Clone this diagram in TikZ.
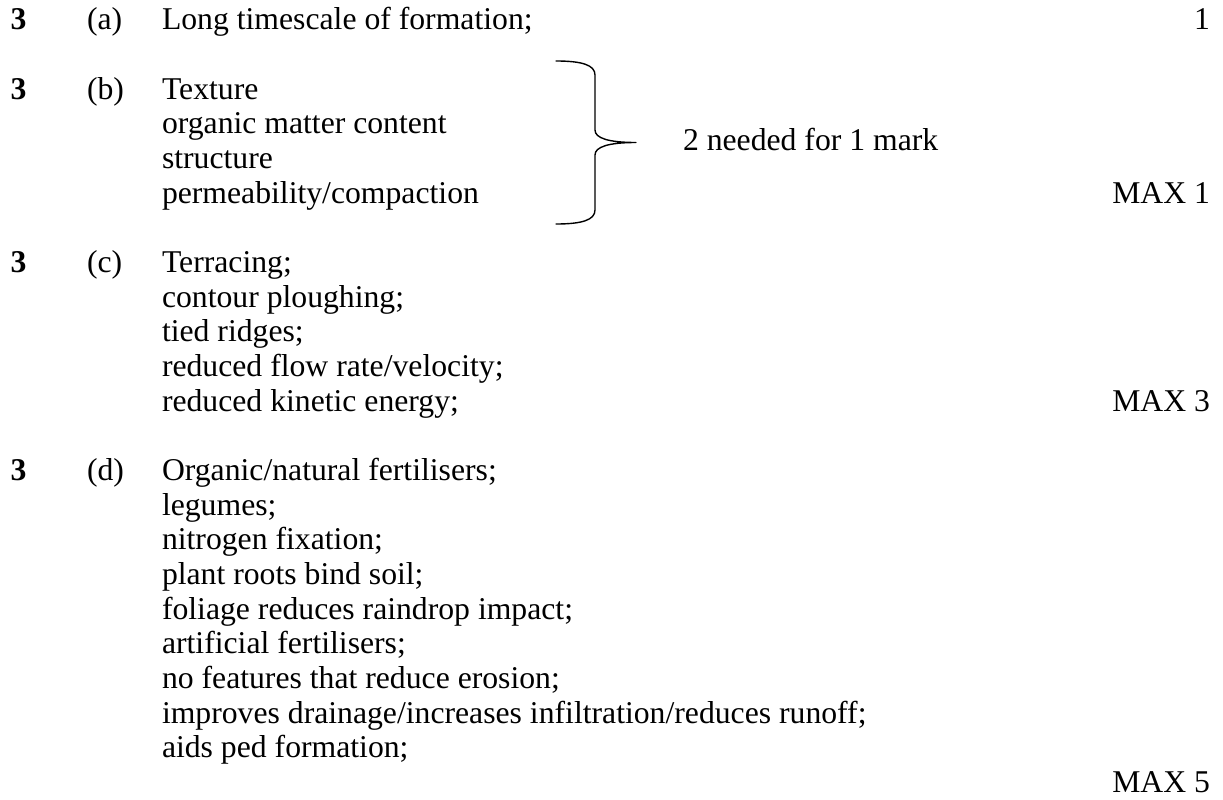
\documentclass[tikz,border=0pt]{standalone}
\usepackage{fontspec}
\setmainfont{Liberation Serif}
\begin{document}
\begin{tikzpicture}[x=1pt,y=-1pt,
  every node/.style={inner sep=0pt,outer sep=0pt,font=\fontsize{31.7pt}{34.65pt}\selectfont},
  qnum/.style={anchor=base west,font=\fontsize{31.7pt}{34.65pt}\selectfont\bfseries},
  part/.style={anchor=base west},
  ans/.style={anchor=base west,align=left},
  markcol/.style={anchor=base east},
  bracepath/.style={line width=1.4pt,line cap=round,line join=round}]
\useasboundingbox (0,0) rectangle (1223,800);
% (a)
\node[qnum] (qa) at (10.5,30) {3};
\node[part] (pa) at (87,30) {(a)};
\node[ans] (ta) at (162,30) {Long timescale of formation;};
\node[markcol] (ma) at (1210,30) {1};
% (b)
\node[qnum] (qb) at (10.5,99.3) {3};
\node[part] (pb) at (87,99.3) {(b)};
\node[ans] (tb1) at (162,99.3) {Texture};
\node[ans] (tb2) at (162,133.95) {organic matter content};
\node[ans] (tb3) at (162,168.6) {structure};
\node[ans] (tb4) at (162,203.25) {permeability/compaction};
\node[anchor=base west] (note) at (683,150) {2 needed for 1 mark};
\node[markcol] (mb) at (1210,203.25) {MAX 1};
\coordinate (bt) at (556,61);
\coordinate (tip) at (636,142.5);
\coordinate (bb) at (556,224);
\draw[bracepath] (bt) .. controls (582,61) and (595,65) .. (595,75)
  -- (595,130) .. controls (595,138) and (608,142.5) .. (tip)
  .. controls (608,142.5) and (595,147) .. (595,155)
  -- (595,210) .. controls (595,220) and (582,224) .. (bb);
% (c)
\node[qnum] (qc) at (10.5,272.55) {3};
\node[part] (pc) at (87,272.55) {(c)};
\node[ans] (tc1) at (162,272.55) {Terracing;};
\node[ans] (tc2) at (162,307.2) {contour ploughing;};
\node[ans] (tc3) at (162,341.85) {tied ridges;};
\node[ans] (tc4) at (162,376.5) {reduced flow rate/velocity;};
\node[ans] (tc5) at (162,411.15) {reduced kinetic energy;};
\node[markcol] (mc) at (1210,411.15) {MAX 3};
% (d)
\node[qnum] (qd) at (10.5,480.45) {3};
\node[part] (pd) at (87,480.45) {(d)};
\node[ans] (td1) at (162,480.45) {Organic/natural fertilisers;};
\node[ans] (td2) at (162,515.1) {legumes;};
\node[ans] (td3) at (162,549.75) {nitrogen fixation;};
\node[ans] (td4) at (162,584.4) {plant roots bind soil;};
\node[ans] (td5) at (162,619.05) {foliage reduces raindrop impact;};
\node[ans] (td6) at (162,653.7) {artificial fertilisers;};
\node[ans] (td7) at (162,688.35) {no features that reduce erosion;};
\node[ans] (td8) at (162,723) {improves drainage/increases infiltration/reduces runoff;};
\node[ans] (td9) at (162,757.65) {aids ped formation;};
\node[markcol] (md) at (1210,792.3) {MAX 5};
\end{tikzpicture}
\end{document}
